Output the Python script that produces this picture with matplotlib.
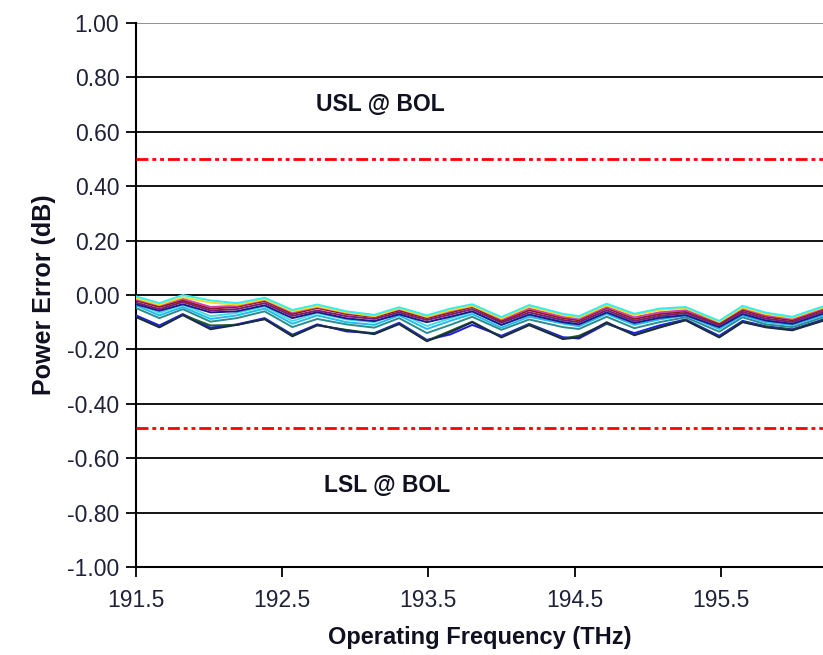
import matplotlib
matplotlib.use("Agg")
import matplotlib.pyplot as plt

plt.rcParams['font.family'] = ['Liberation Sans', 'DejaVu Sans']

freq = [191.50, 191.66, 191.82, 192.01, 192.19, 192.38, 192.57, 192.74, 192.94,
        193.13, 193.30, 193.49, 193.65, 193.80, 194.00, 194.19, 194.42, 194.53,
        194.72, 194.91, 195.08, 195.26, 195.49, 195.65, 195.81, 195.99, 196.20]

s_cyan = [-0.005, -0.030, 0.000, -0.020, -0.030, -0.010, -0.055, -0.035, -0.060, -0.073, -0.045, -0.075, -0.050, -0.034,
          -0.081, -0.037, -0.069, -0.078, -0.032, -0.069, -0.050, -0.044, -0.095, -0.040, -0.065, -0.080, -0.042]
s_yellow = [-0.012, -0.036, -0.008, -0.028, -0.036, -0.016, -0.060, -0.042, -0.064, -0.078, -0.050, -0.080, -0.056, -0.040,
            -0.086, -0.043, -0.074, -0.083, -0.038, -0.074, -0.055, -0.048, -0.099, -0.046, -0.070, -0.084, -0.046]
s_magenta = [-0.016, -0.038, -0.014, -0.044, -0.040, -0.018, -0.064, -0.044, -0.066, -0.077, -0.052, -0.081, -0.060, -0.040,
             -0.090, -0.050, -0.080, -0.088, -0.044, -0.082, -0.064, -0.056, -0.100, -0.050, -0.075, -0.088, -0.050]
s_darkred = [-0.020, -0.044, -0.020, -0.050, -0.044, -0.022, -0.070, -0.048, -0.070, -0.081, -0.057, -0.085, -0.065, -0.044,
             -0.096, -0.056, -0.085, -0.093, -0.048, -0.088, -0.070, -0.060, -0.105, -0.055, -0.080, -0.093, -0.055]
s_purple = [-0.028, -0.052, -0.026, -0.057, -0.052, -0.030, -0.077, -0.057, -0.078, -0.088, -0.064, -0.092, -0.072, -0.052,
            -0.102, -0.064, -0.092, -0.100, -0.056, -0.095, -0.077, -0.066, -0.111, -0.062, -0.087, -0.099, -0.062]
s_navy = [-0.034, -0.058, -0.034, -0.064, -0.060, -0.038, -0.085, -0.063, -0.086, -0.096, -0.071, -0.100, -0.080, -0.060,
          -0.110, -0.072, -0.100, -0.108, -0.064, -0.103, -0.084, -0.074, -0.118, -0.070, -0.094, -0.106, -0.069]
s_turq = [-0.030, -0.066, -0.036, -0.078, -0.066, -0.042, -0.096, -0.066, -0.090, -0.100, -0.066, -0.114, -0.086, -0.062,
          -0.110, -0.072, -0.096, -0.106, -0.062, -0.100, -0.082, -0.068, -0.116, -0.068, -0.092, -0.102, -0.068]
s_sky = [-0.038, -0.075, -0.044, -0.088, -0.075, -0.050, -0.106, -0.075, -0.100, -0.110, -0.075, -0.125, -0.095, -0.070,
         -0.120, -0.080, -0.105, -0.115, -0.070, -0.110, -0.090, -0.075, -0.125, -0.075, -0.100, -0.110, -0.075]
s_teal = [-0.048, -0.085, -0.052, -0.098, -0.085, -0.060, -0.118, -0.088, -0.108, -0.120, -0.085, -0.140, -0.110, -0.080,
          -0.128, -0.090, -0.118, -0.125, -0.080, -0.122, -0.100, -0.082, -0.135, -0.082, -0.108, -0.118, -0.082]
s_blue = [-0.075, -0.112, -0.070, -0.120, -0.108, -0.085, -0.146, -0.108, -0.134, -0.140, -0.102, -0.165, -0.145, -0.110,
          -0.150, -0.106, -0.155, -0.160, -0.106, -0.140, -0.112, -0.090, -0.150, -0.095, -0.115, -0.126, -0.090]
s_green = [-0.080, -0.117, -0.073, -0.112, -0.110, -0.088, -0.150, -0.112, -0.128, -0.142, -0.105, -0.168, -0.132, -0.098,
           -0.154, -0.108, -0.160, -0.150, -0.104, -0.146, -0.118, -0.092, -0.154, -0.098, -0.117, -0.128, -0.093]
s_dark = [-0.081, -0.119, -0.074, -0.126, -0.110, -0.089, -0.152, -0.110, -0.130, -0.144, -0.107, -0.170, -0.137, -0.100,
          -0.156, -0.111, -0.162, -0.156, -0.100, -0.148, -0.120, -0.093, -0.156, -0.100, -0.119, -0.130, -0.095]

usl = 0.50
lsl = -0.49
y_ticks = [-1.0, -0.8, -0.6, -0.4, -0.2, 0.0, 0.2, 0.4, 0.6, 0.8, 1.0]
x_ticks = [191.5, 192.5, 193.5, 194.5, 195.5]

series = [
    (s_blue, '#1a1aee'),
    (s_green, '#1f5a2a'),
    (s_dark, '#1c2a48'),
    (s_teal, '#2a8c8c'),
    (s_sky, '#22bbee'),
    (s_turq, '#44dddd'),
    (s_navy, '#1a1a8a'),
    (s_purple, '#7a1a7a'),
    (s_darkred, '#8a1a1a'),
    (s_magenta, '#cc44aa'),
    (s_yellow, '#eedd22'),
    (s_cyan, '#33eeee'),
]

fig = plt.figure(figsize=(8.23, 6.55), dpi=100)
ax = fig.add_axes([136 / 823, 88 / 655, 1 - 136 / 823, (567 - 23) / 655])

for yv in y_ticks:
    if yv == -1.0:
        continue
    ax.axhline(yv, color='#888888' if yv == 1.0 else 'black', lw=1.3, zorder=1)

for vals, col in series:
    ax.plot(freq, vals, color=col, lw=1.4, zorder=3)

for yv in (usl, lsl):
    ax.axhline(yv, color='#ff0000', lw=2.0, dashes=(4.3, 1.4, 1.4, 1.4, 1.4, 1.4), zorder=4)

ax.text(193.17, 0.70, 'USL @ BOL', ha='center', va='center', fontsize=16.5, fontweight='bold', color='#101020')
ax.text(193.22, -0.70, 'LSL @ BOL', ha='center', va='center', fontsize=16.5, fontweight='bold', color='#101020')

ax.set_xlim(191.5, 196.2)
ax.set_ylim(-1.0, 1.0)
ax.set_yticks(y_ticks)
ax.set_yticklabels([f'{v:.2f}' for v in y_ticks])
ax.set_xticks(x_ticks)
ax.set_xticklabels([f'{v:.1f}' for v in x_ticks])
ax.tick_params(axis='both', direction='out', length=7, width=1.3, colors='black',
               labelsize=16.5, labelcolor='#202038')
ax.tick_params(axis='y', pad=5)
ax.tick_params(axis='x', pad=9)

for sp in ('top', 'right'):
    ax.spines[sp].set_visible(False)
for sp in ('left', 'bottom'):
    ax.spines[sp].set_linewidth(1.5)
    ax.spines[sp].set_color('black')

ax.set_xlabel('Operating Frequency (THz)', fontsize=17, fontweight='bold', labelpad=10, color='#101020')
ax.set_ylabel('Power Error (dB)', fontsize=18, fontweight='bold', labelpad=8, color='#101020')

fig.savefig('out.png', dpi=100)
